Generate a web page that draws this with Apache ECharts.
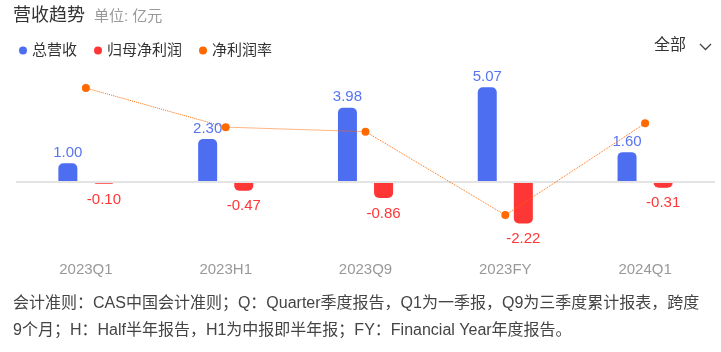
<!DOCTYPE html>
<html>
<head>
    <meta charset="utf-8">
    <title>营收趋势</title>
    <script src="https://cdn.jsdelivr.net/npm/echarts@6/dist/echarts.min.js"></script>
    <style>
        html, body { margin: 0; padding: 0; background: #fff; }
        #chart1 { width: 721px; height: 352px; }
    </style>
</head>
<body>
<div id="chart1"></div>
<script type="text/javascript">
    // 报告期
    var periods = ['2023Q1', '2023H1', '2023Q9', '2023FY', '2024Q1'];
    // 总营收（亿元）
    var revenue = [1.00, 2.30, 3.98, 5.07, 1.60];
    // 归母净利润（亿元）
    var netProfit = [-0.10, -0.47, -0.86, -2.22, -0.31];
    // 净利润率（%）
    var netMargin = [-10.0, -20.4, -21.6, -43.8, -19.4];

    var blue = '#4e6ef2';
    var red = '#ff3636';
    var orange = '#ff6a00';
    var font = '"Liberation Sans", "Noto Sans CJK SC", sans-serif';

    var myChart1 = echarts.init(document.getElementById('chart1'));

    myChart1.setOption({
        animation: false,
        textStyle: { fontFamily: font },
        legend: {
            left: 14, top: 38,
            icon: 'circle',
            itemWidth: 8, itemHeight: 8,
            itemGap: 17,
            textStyle: { fontSize: 15, color: '#333', fontFamily: font },
            data: ['总营收', '归母净利润', '净利润率']
        },
        grid: { left: 16, right: 6, top: 70, bottom: 114 },
        xAxis: {
            type: 'category',
            data: periods,
            axisLine: { show: false },
            axisTick: { show: false },
            axisLabel: { color: '#999', fontSize: 15, margin: 24, fontFamily: font }
        },
        yAxis: [
            { type: 'value', min: -3, max: 6, show: false, splitLine: { show: false } },
            { type: 'value', min: -49.9, max: -5.2, show: false, splitLine: { show: false } }
        ],
        series: [
            {
                name: '总营收',
                type: 'bar',
                data: revenue,
                barWidth: 19,
                barGap: '90%',
                itemStyle: { color: blue, borderRadius: [5, 5, 0, 0] },
                label: {
                    show: true, position: 'top', distance: 3,
                    color: '#5775f3', fontSize: 15, fontFamily: font,
                    formatter: function (p) { return p.value.toFixed(2); }
                },
                markLine: {
                    silent: true,
                    symbol: 'none',
                    label: { show: false },
                    lineStyle: { color: '#e4e4e4', width: 2, type: 'solid' },
                    data: [{ yAxis: 0 }]
                }
            },
            {
                name: '归母净利润',
                type: 'bar',
                data: netProfit,
                barWidth: 19,
                itemStyle: { color: red, borderRadius: [0, 0, 5, 5] },
                label: {
                    show: true, position: 'bottom', distance: 8,
                    color: red, fontSize: 15, fontFamily: font,
                    formatter: function (p) { return p.value.toFixed(2); }
                }
            },
            {
                name: '净利润率',
                type: 'line',
                yAxisIndex: 1,
                data: netMargin,
                symbol: 'circle',
                symbolSize: 8,
                z: 5,
                itemStyle: { color: orange },
                lineStyle: { color: orange, width: 1, type: 'dotted' }
            }
        ],
        graphic: [
            {
                type: 'text', left: 13, top: 7,
                style: { text: '营收趋势', font: '18px ' + font, fill: '#333' }
            },
            {
                type: 'text', left: 94, top: 9,
                style: { text: '单位: 亿元', font: '15px ' + font, fill: '#999' }
            },
            {
                type: 'text', left: 654, top: 38,
                style: { text: '全部', font: '16px ' + font, fill: '#333' }
            },
            {
                type: 'polyline', silent: true,
                shape: { points: [[700, 44], [705.5, 49.5], [711, 44]] },
                style: { stroke: '#444', lineWidth: 1.3, fill: null }
            },
            {
                type: 'text', left: 13, top: 290,
                style: {
                    text: '会计准则：CAS中国会计准则；Q：Quarter季度报告，Q1为一季报，Q9为三季度累计报表，跨度\n9个月；H：Half半年报告，H1为中报即半年报；FY：Financial Year年度报告。',
                    font: '16px ' + font,
                    lineHeight: 27,
                    fill: '#444'
                }
            }
        ]
    });
</script>
</body>
</html>
